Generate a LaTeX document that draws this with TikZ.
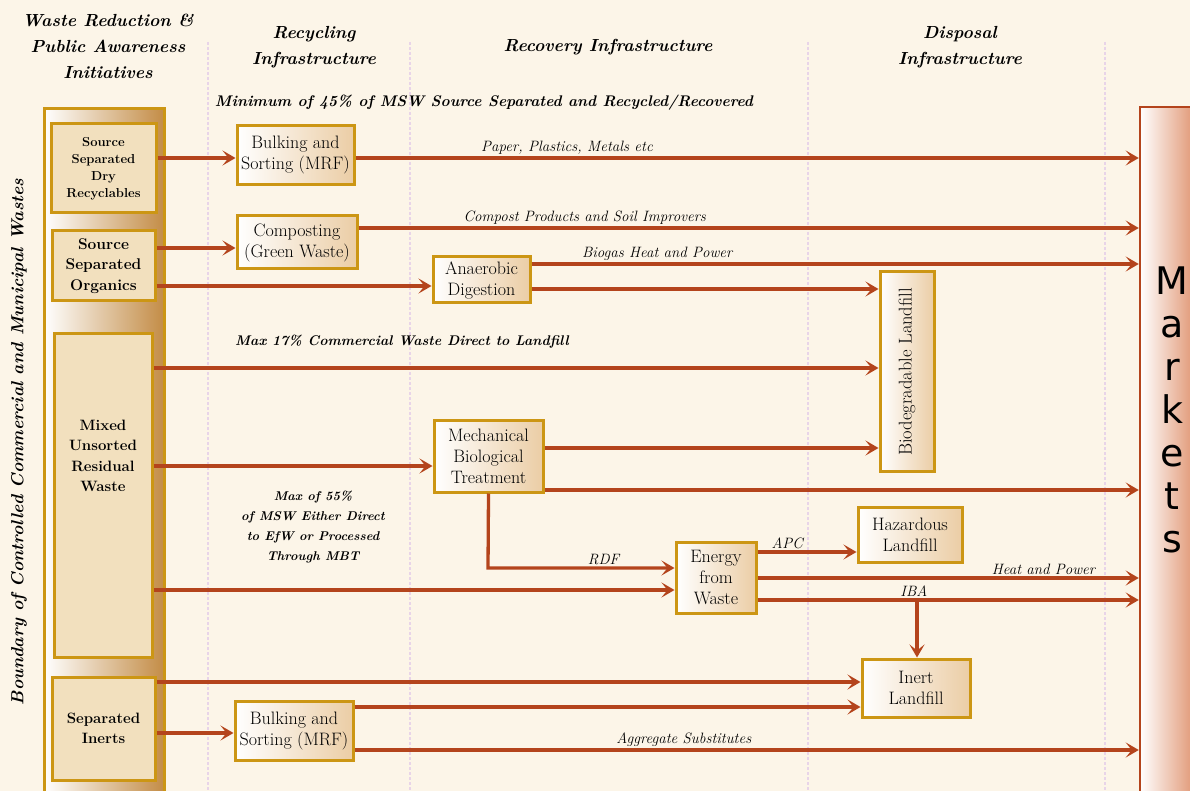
\documentclass[tikz,border=0pt]{standalone}
\usepackage{fontspec}
\newfontfamily\mksans{DejaVu Sans}
\usetikzlibrary{arrows.meta}
\definecolor{bg}{RGB}{252,245,232}
\definecolor{gold}{RGB}{204,150,20}
\definecolor{rust}{RGB}{180,68,28}
\definecolor{tanc}{RGB}{235,205,165}
\definecolor{innerc}{RGB}{242,224,190}
\definecolor{brownR}{RGB}{195,140,70}
\definecolor{peach}{RGB}{240,200,150}
\definecolor{salmon}{RGB}{225,152,118}
\definecolor{guide}{RGB}{232,212,232}
\begin{document}
\begin{tikzpicture}[x=1pt,y=-1pt,
  proc/.style={draw=gold,line width=3pt,left color=white,right color=tanc,align=center,font=\fontsize{18}{21}\selectfont,inner sep=0pt},
  src/.style={draw=gold,line width=3pt,fill=innerc,align=center,inner sep=0pt},
  flow/.style={draw=rust,line width=3.3pt,-{Stealth[length=13pt,width=15pt,inset=6pt]}},
  lab/.style={font=\itshape\fontsize{15}{17}\selectfont,inner sep=2pt},
  hdr/.style={font=\bfseries\itshape\fontsize{17.5}{26}\selectfont,align=center},
  note/.style={font=\bfseries\itshape\fontsize{14}{20}\selectfont,align=center},
  guideline/.style={draw=guide,line width=1.5pt,dash pattern=on 3pt off 2pt},
]
\useasboundingbox (0,0) rectangle (1190,791);
\fill[bg] (0,0) rectangle (1190,791);
\clip (0,0) rectangle (1190,791);

% guide lines
\draw[guideline] (208,42) -- (208,791);
\draw[guideline] (410,42) -- (410,791);
\draw[guideline] (808,42) -- (808,791);
\draw[guideline] (1105,42) -- (1105,791);

% headers
\node[hdr] (h1) at (108,46) {Waste Reduction \&\\Public Awareness\\Initiatives};
\node[hdr] (h2) at (314,47) {Recycling\\Infrastructure};
\node[hdr] (h3) at (608,47) {Recovery Infrastructure};
\node[hdr] (h4) at (960,47) {Disposal\\Infrastructure};
\node[note,font=\bfseries\itshape\fontsize{15.4}{20}\selectfont] (n45) at (484,103) {Minimum of 45\% of MSW Source Separated and Recycled/Recovered};

% boundary text
\node[hdr,rotate=90] (bnd) at (19,442) {Boundary of Controlled Commercial and Municipal Wastes};

% outer boundary box
\node[draw=gold,line width=3pt,left color=white,middle color=peach,right color=brownR,minimum width=120pt,minimum height=690pt,inner sep=0pt] (outer) at (104,454) {};

% source boxes
\node[src,minimum width=105pt,minimum height=89pt,font=\bfseries\fontsize{13}{17}\selectfont] (dry) at (103.5,168.5) {Source\\Separated\\Dry\\Recyclables};
\node[src,minimum width=103pt,minimum height=70pt,font=\bfseries\fontsize{15.5}{20.5}\selectfont] (org) at (103.5,266) {Source\\Separated\\Organics};
\node[src,minimum width=98pt,minimum height=324pt] (mix) at (103,495) {};
\node[font=\bfseries\fontsize{15}{20.5}\selectfont,align=center] (mixt) at (103,456) {Mixed\\Unsorted\\Residual\\Waste};
\node[src,minimum width=103pt,minimum height=103pt,font=\bfseries\fontsize{15}{20}\selectfont] (ine) at (103.5,728.5) {Separated\\Inerts};

% process boxes
\node[proc,minimum width=117pt,minimum height=59pt] (mrf1) at (295.5,155.5) {Bulking and\\Sorting (MRF)};
\node[proc,minimum width=120pt,minimum height=53pt] (comp) at (297,242.5) {Composting\\(Green Waste)};
\node[proc,minimum width=97pt,minimum height=46pt] (ad) at (481.5,280) {Anaerobic\\Digestion};
\node[proc,minimum width=109pt,minimum height=72pt] (mbt) at (488.5,456) {Mechanical\\Biological\\Treatment};
\node[proc,minimum width=80pt,minimum height=71pt] (efw) at (716,577.5) {Energy\\from\\Waste};
\node[proc,minimum width=54pt,minimum height=199pt] (bio) at (907,371.5) {};
\node[font=\fontsize{18.5}{20}\selectfont,rotate=90] (biot) at (907,372) {Biodegradable Landfill};
\node[proc,minimum width=104pt,minimum height=55pt] (haz) at (910,534.5) {Hazardous\\Landfill};
\node[proc,minimum width=108pt,minimum height=58pt] (inl) at (916,688) {Inert\\Landfill};
\node[proc,minimum width=118pt,minimum height=59pt] (mrf2) at (294,730.5) {Bulking and\\Sorting (MRF)};

% markets
\node[draw=rust,line width=2.5pt,left color=white,right color=salmon,minimum width=54pt,minimum height=700pt,inner sep=0pt] (mk) at (1167,457) {};
\node[font=\mksans\fontsize{38}{43}\selectfont,align=center] (mkt) at (1172,410) {M\\a\\r\\k\\e\\t\\s};

% flows
\draw[flow] (dry.east |- 0,158) -- (mrf1.west |- 0,158);
\draw[flow] (mrf1.east |- 0,158) -- node[lab,above,pos=0.27] {Paper, Plastics, Metals etc} (mk.west |- 0,158);
\draw[flow] (org.east |- 0,248) -- (comp.west |- 0,248);
\draw[flow] (comp.east |- 0,228) -- node[lab,above,pos=0.29] {Compost Products and Soil Improvers} (mk.west |- 0,228);
\draw[flow] (org.east |- 0,286) -- (ad.west |- 0,286);
\draw[flow] (ad.east |- 0,264) -- node[lab,above,pos=0.207] {Biogas Heat and Power} (mk.west |- 0,264);
\draw[flow] (ad.east |- 0,289) -- (bio.west |- 0,289);
\draw[flow] (mix.east |- 0,368) -- (bio.west |- 0,368);
\node[note] (n17) at (402,342) {Max 17\% Commercial Waste Direct to Landfill};
\draw[flow] (mix.east |- 0,466) -- (mbt.west |- 0,466);
\draw[flow] (mbt.east |- 0,448) -- (bio.west |- 0,448);
\draw[flow] (mbt.east |- 0,490) -- (mk.west |- 0,490);
\draw[flow] (mbt.south) -- (488,568) -- node[lab,above,pos=0.62] {RDF} (efw.west |- 0,568);
\draw[flow] (mix.east |- 0,590) -- (efw.west |- 0,590);
\node[note,font=\bfseries\itshape\fontsize{12.7}{20.3}\selectfont] (n55) at (313,527) {Max of 55\%\\of MSW Either Direct\\to EfW or Processed\\Through MBT};
\draw[flow] (efw.east |- 0,552) -- node[lab,above,pos=0.3] {APC} (haz.west |- 0,552);
\draw[flow] (efw.east |- 0,578) -- node[lab,above,pos=0.75] {Heat and Power} (mk.west |- 0,578);
\draw[flow] (efw.east |- 0,600) -- node[lab,above,pos=0.41] {IBA} (mk.west |- 0,600);
\coordinate (iba) at (917,600);
\draw[flow] (iba) -- (inl.north -| iba);
\draw[flow] (ine.east |- 0,682) -- (inl.west |- 0,682);
\draw[flow] (mrf2.east |- 0,707) -- (inl.west |- 0,707);
\draw[flow] (ine.east |- 0,733) -- (mrf2.west |- 0,733);
\draw[flow] (mrf2.east |- 0,750) -- node[lab,above,pos=0.42] {Aggregate Substitutes} (mk.west |- 0,750);
\end{tikzpicture}
\end{document}
